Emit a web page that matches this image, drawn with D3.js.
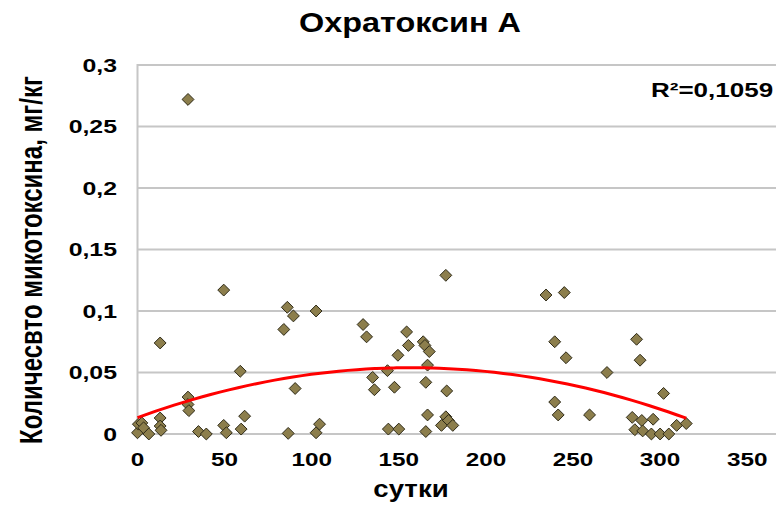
<!DOCTYPE html>
<html>
<head>
<meta charset="utf-8">
<script src="https://cdn.jsdelivr.net/npm/d3@7"></script>
<style>
  body { margin: 0; background: #fff; }
  svg { display: block; font-family: "Liberation Sans", Arial, sans-serif; font-weight: bold; }
</style>
</head>
<body>
<svg width="776" height="505"></svg>
<script>
// days of storage (x) and ochratoxin A amount, mg/kg (y)
const days = [0, 0.5, 2.5, 3.5, 6.5, 13, 13, 13.5, 13, 29, 29, 29, 29.5, 35, 39.5,
  49.5, 49.5, 51, 59, 59.5, 61.5, 84, 86, 86.5, 89.5, 90.5, 102.5, 102.5, 104.5,
  129.5, 131.5, 135, 136, 143.5, 144, 147.5, 149.5, 150, 154.5, 155.5, 164, 165,
  167.5, 166.5, 165.5, 166.5, 165.5, 174.5, 177, 177.5, 177, 178.5, 181,
  234.5, 245, 239.5, 246, 269.5, 239.5, 241.5, 259.5, 286.5, 288.5, 302, 284,
  289.5, 296, 285.5, 290, 295, 300, 305, 309.5, 315];
const toxin = [0.001, 0.008, 0.009, 0.005, 0, 0.013, 0.0065, 0.003, 0.074, 0.272,
  0.030, 0.024, 0.019, 0.002, 0, 0.117, 0.007, 0.001, 0.051, 0.004, 0.0145, 0.085,
  0.103, 0.0005, 0.096, 0.037, 0.100, 0.001, 0.008, 0.089, 0.079, 0.046, 0.036,
  0.0515, 0.004, 0.038, 0.064, 0.004, 0.083, 0.072, 0.075, 0.072, 0.067, 0.056,
  0.042, 0.0155, 0.002, 0.007, 0.129, 0.035, 0.014, 0.011, 0.007, 0.113, 0.115,
  0.075, 0.062, 0.050, 0.026, 0.0155, 0.0155, 0.077, 0.060, 0.033, 0.0135, 0.011,
  0.012, 0.0035, 0.0025, 0, 0, 0, 0.007, 0.0085];
// polynomial (2nd order) trendline as drawn in the chart: c0 + c1*x + c2*x^2
const trendCoef = [0.0133, 5.172e-4, -1.647e-6];
const xTicks = [0, 50, 100, 150, 200, 250, 300, 350];
const yTicks = [0, 0.05, 0.1, 0.15, 0.2, 0.25, 0.3];
const title = "Охратоксин А";
const xTitle = "сутки";
const yTitle = "Количесвто микотоксина, мг/кг";
const r2Label = "R²=0,1059";

const svg = d3.select("svg");
const plotLeft = 137.5, plotTop = 65, plotBottom = 434;

const x = d3.scaleLinear().domain([0, 400]).range([plotLeft, plotLeft + 400 * 1.742]);
const y = d3.scaleLinear().domain([0, 0.3]).range([plotBottom, plotTop]);
const fmt = d3.formatLocale({decimal: ",", thousands: " ", grouping: [3], currency: ["", ""]}).format("~g");

// gridlines
svg.append("g")
  .selectAll("line")
  .data(yTicks)
  .join("line")
  .attr("x1", plotLeft).attr("x2", 800)
  .attr("y1", d => y(d)).attr("y2", d => y(d))
  .attr("stroke", "#c6c6c6").attr("stroke-width", 2);

svg.append("line")
  .attr("x1", plotLeft).attr("x2", plotLeft)
  .attr("y1", plotTop - 1).attr("y2", plotBottom + 1)
  .attr("stroke", "#c6c6c6").attr("stroke-width", 2);

// y tick labels
svg.append("g")
  .selectAll("text")
  .data(yTicks)
  .join("text")
  .attr("transform", d => "translate(117," + (y(d) + 6.5) + ") scale(1.38,1)")
  .attr("text-anchor", "end")
  .attr("font-size", 18)
  .text(d => fmt(d));

// x tick labels
svg.append("g")
  .selectAll("text")
  .data(xTicks)
  .join("text")
  .attr("transform", d => "translate(" + x(d) + ",466) scale(1.35,1)")
  .attr("text-anchor", "middle")
  .attr("font-size", 18)
  .text(d => d);

// trendline over the range of the data
const xr = d3.extent(days);
const trend = d3.range(xr[0], xr[1] + 0.01, (xr[1] - xr[0]) / 60)
  .map(t => [t, trendCoef[0] + trendCoef[1] * t + trendCoef[2] * t * t]);

// points
svg.append("g")
  .selectAll("path")
  .data(days.map((d, i) => [d, toxin[i]]))
  .join("path")
  .attr("transform", d => "translate(" + x(d[0]) + "," + y(d[1]) + ")")
  .attr("d", d3.symbol(d3.symbolDiamond2, 90))
  .attr("fill", "#8c7e4c")
  .attr("stroke", "#2e2a18")
  .attr("stroke-width", 1);

svg.append("path")
  .datum(trend)
  .attr("fill", "none")
  .attr("stroke", "#ff0000")
  .attr("stroke-width", 3)
  .attr("d", d3.line().x(d => x(d[0])).y(d => y(d[1])).curve(d3.curveBasis));

// titles
svg.append("text")
  .attr("transform", "translate(410,32) scale(1.2,1)")
  .attr("text-anchor", "middle")
  .attr("font-size", 27)
  .text(title);

svg.append("text")
  .attr("transform", "translate(411,497) scale(1.15,1)")
  .attr("text-anchor", "middle")
  .attr("font-size", 24)
  .text(xTitle);

svg.append("text")
  .attr("transform", "translate(42,260) rotate(-90) scale(1,1.3)")
  .attr("text-anchor", "middle")
  .attr("font-size", 24)
  .text(yTitle);

svg.append("text")
  .attr("transform", "translate(651,97) scale(1.3,1)")
  .attr("font-size", 20)
  .text(r2Label);
</script>
</body>
</html>
